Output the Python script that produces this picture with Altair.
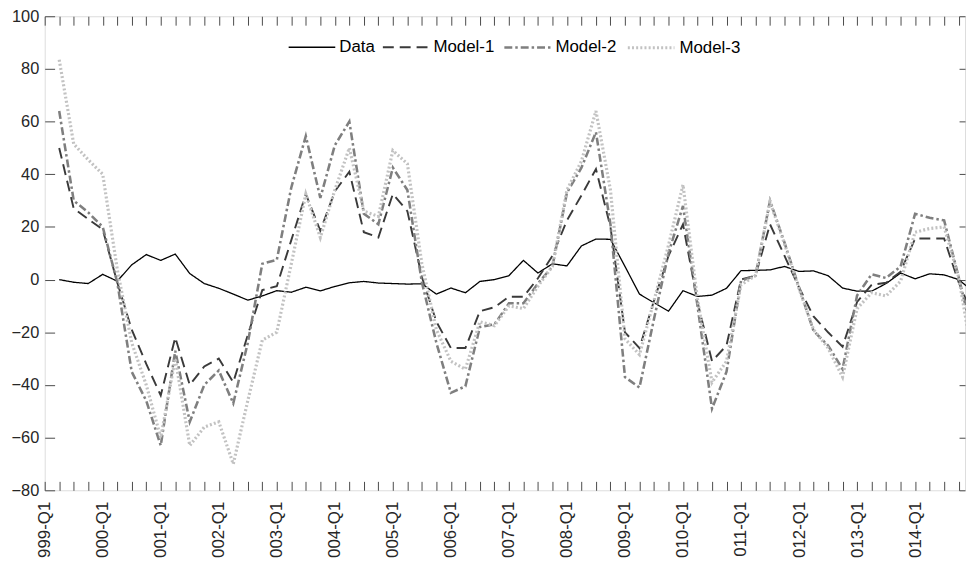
import json
import altair as alt
import pandas as pd

FONT = "Liberation Sans"

# quarter index (1 = 1999-Q2 ... 64 = 2015-Q1)
quarters = list(range(1, 65))

data_series = [0, -1, -1.5, 2, -0.6, 5.6, 9.5, 7.3, 9.7, 2.3,
               -1.5, -3.3, -5.5, -7.8, -6.2, -4.2, -4.8, -2.9, -4.3, -2.6,
               -1.2, -0.7, -1.3, -1.5, -1.7, -1.6, -5.5, -3.2, -5, -0.7,
               0, 1.5, 7.3, 2.5, 6, 5.2, 12.8, 15.4, 15.3, 5,
               -5.5, -8.8, -12, -4.2, -6.4, -5.9, -3.3, 3.4, 3.5, 3.7,
               5, 3.1, 3.3, 1.5, -3.2, -4.4, -4.4, -1.5, 2.5, 0.3,
               2.2, 1.8, 0, -4.5]

model1 = [50, 27, 23, 19, -1, -19, -32, -44, -22, -40,
          -33, -30, -39, -21, -4, -2.5, 15, 32.5, 18.5, 33.5,
          41, 18, 16, 32.5, 26, 1, -16, -26, -26, -12,
          -10.5, -6.5, -6.5, 0.5, 9, 22.5, 32, 42, 20, -20,
          -26, -8, 9, 21, -8.5, -31, -25, 0, 1.5, 21,
          9, -3, -14, -20, -25.5, -8.5, -2, -1.2, 3, 15.6,
          15.6, 15.6, -1, -14]

model2 = [64, 30, 25.5, 20, -1, -35, -46, -63, -27, -54,
          -40, -34.5, -47, -24, 6, 7.5, 35, 54.5, 31, 51,
          60, 25, 21, 42.5, 34, -1, -24, -43, -40.5, -18,
          -17, -9, -9, -1.5, 5, 33, 42.5, 56, 21, -37,
          -41, -15, 10, 28, -10, -49, -35, -0.5, 1.5, 30,
          14, -3, -19.5, -25, -34, -6, 2, 0.6, 5, 25,
          23.5, 22.5, 1, -22]

model3 = [83.5, 51.5, 45.5, 40, 4, -24, -40, -60, -30, -63,
          -56, -54, -70, -46, -23, -20, 6, 32.5, 16, 34,
          50, 26, 24, 49, 44, 6, -19, -31, -34, -16,
          -17.5, -10, -11, -2.5, 5, 34, 45, 64, 34, -22.5,
          -28.5, -8, 13, 36, -7.5, -39, -31, -2, 1.5, 29.5,
          13.5, -3.5, -19, -26, -37, -11, -5, -6.2, -0.6, 18,
          19.4, 20, 1, -31]

series_names = ["Data", "Model-1", "Model-2", "Model-3"]
series_colors = ["#000000", "#3a3a3a", "#7f7f7f", "#c2c2c2"]
series_dashes = [[1, 0], [11, 6], [8, 3, 2.5, 3], [2, 2.2]]
series_widths = [1.3, 3.2, 3.0, 2.8]

x_labels = ["999-Q1", "000-Q1", "001-Q1", "002-Q1", "003-Q1", "004-Q1",
            "005-Q1", "006-Q1", "007-Q1", "008-Q1", "009-Q1", "010-Q1",
            "011-Q1", "012-Q1", "013-Q1", "014-Q1"]
x_tick_pos = list(range(0, 64))
y_ticks = [-80, -60, -40, -20, 0, 20, 40, 60, 80, 100]

rows = []
for name, vals in zip(series_names, [data_series, model1, model2, model3]):
    for q, v in zip(quarters, vals):
        rows.append({"idx": q, "value": v, "series": name})
df = pd.DataFrame(rows)

W, H = 928, 478
XMAX = W / 14.628
xscale = alt.Scale(domain=[0, XMAX], nice=False, zero=False)
yscale = alt.Scale(domain=[-80, 100], nice=False, zero=False)

AXC = "#4a4a4a"
label_expr = ("datum.value % 4 == 0 ? " + json.dumps(x_labels)
              + "[round(datum.value / 4)] : ''")

# inward ticks on both edges drawn as dashed grid lines (tick, gap, tick)
x_axis = alt.Axis(orient="bottom", values=x_tick_pos, labelExpr=label_expr,
                  ticks=False, tickSize=0, labelAngle=-90, labelPadding=11,
                  labelOverlap=False, labelFontSize=17, labelFont=FONT,
                  labelColor="#262626", domain=False,
                  grid=True, gridColor=AXC, gridOpacity=1, gridWidth=1,
                  gridDash=[9, H - 18, 9, 200], title=None)
y_axis = alt.Axis(orient="left", values=y_ticks, ticks=False, tickSize=0,
                  labelPadding=6, labelFontSize=16.5, labelFont=FONT,
                  labelColor="#262626", domain=False,
                  grid=True, gridColor=AXC, gridOpacity=1, gridWidth=1,
                  gridDash=[10, W - 16, 6, 200], title=None)

legend = alt.Legend(orient="none", legendX=245, legendY=6, direction="horizontal",
                    symbolType="stroke", symbolSize=2209, labelFontSize=17,
                    labelFont=FONT, labelColor="#000000", title=None,
                    columnPadding=4, labelOffset=3, padding=0)

chart = alt.Chart(df).mark_line().encode(
    x=alt.X("idx:Q", scale=xscale, axis=x_axis),
    y=alt.Y("value:Q", scale=yscale, axis=y_axis),
    color=alt.Color("series:N", scale=alt.Scale(domain=series_names, range=series_colors), legend=legend),
    strokeDash=alt.StrokeDash("series:N", scale=alt.Scale(domain=series_names, range=series_dashes), legend=legend),
    strokeWidth=alt.StrokeWidth("series:N", scale=alt.Scale(domain=series_names, range=series_widths), legend=legend),
).properties(
    width=W, height=H,
    autosize=alt.AutoSizeParams(type="none"),
    padding={"left": 37, "top": 6, "right": 1, "bottom": 71},
).configure_view(stroke=AXC, strokeWidth=1).configure(background="white")

chart.save("out.html", embed_options={"renderer": "svg", "actions": False})
